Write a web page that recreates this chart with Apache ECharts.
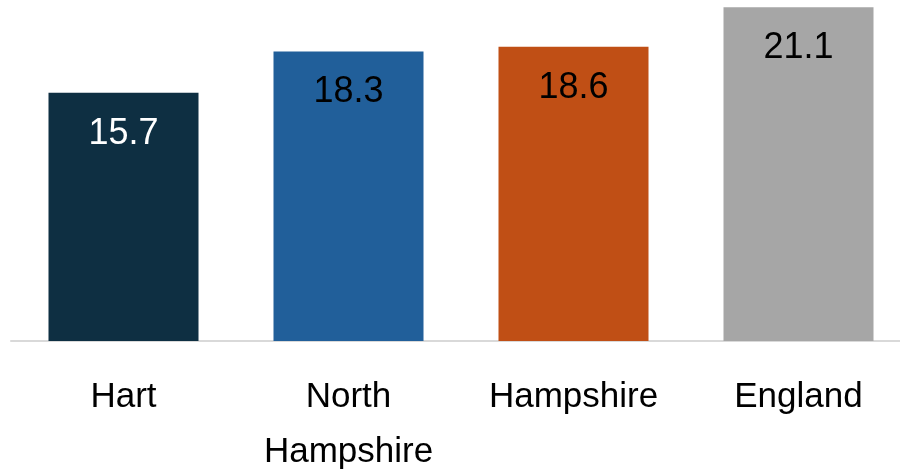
<!DOCTYPE html>
<html>
<head>
<meta charset="utf-8">
<script src="https://cdn.jsdelivr.net/npm/echarts@6/dist/echarts.min.js"></script>
<style>
  html, body { margin: 0; padding: 0; background: #ffffff; }
  #chart { width: 900px; height: 469px; }
</style>
</head>
<body>
<div id="chart"></div>
<script>
// Areas compared and their values
const categories = ['Hart', 'North\nHampshire', 'Hampshire', 'England'];
const values = [15.7, 18.3, 18.6, 21.1];
const barColors = ['#0E2F42', '#215F9A', '#C04F15', '#A6A6A6'];
const labelColors = ['#ffffff', '#000000', '#000000', '#000000'];

const FONT = '"Liberation Sans", Arial, sans-serif';

const chart = echarts.init(document.getElementById('chart'));
chart.setOption({
  animation: false,
  grid: { left: 11, right: -11, top: -7, bottom: 128, containLabel: false, outerBoundsMode: 'none' },
  xAxis: {
    type: 'category',
    data: categories,
    axisLine: { show: true, lineStyle: { color: '#D9D9D9', width: 2 } },
    axisTick: { show: false },
    axisLabel: {
      color: '#000000',
      fontFamily: FONT,
      fontSize: 35,
      lineHeight: 55,
      margin: 29,
      interval: 0
    }
  },
  yAxis: {
    type: 'value',
    min: 0,
    max: 22,
    show: false,
    splitLine: { show: false }
  },
  series: [{
    type: 'bar',
    barWidth: 150,
    data: values.map((v, i) => ({
      value: v,
      itemStyle: { color: barColors[i] },
      label: { color: labelColors[i] }
    })),
    label: {
      show: true,
      position: 'insideTop',
      distance: 23,
      fontFamily: FONT,
      fontSize: 36,
      formatter: p => p.value.toFixed(1)
    }
  }]
});
</script>
</body>
</html>
